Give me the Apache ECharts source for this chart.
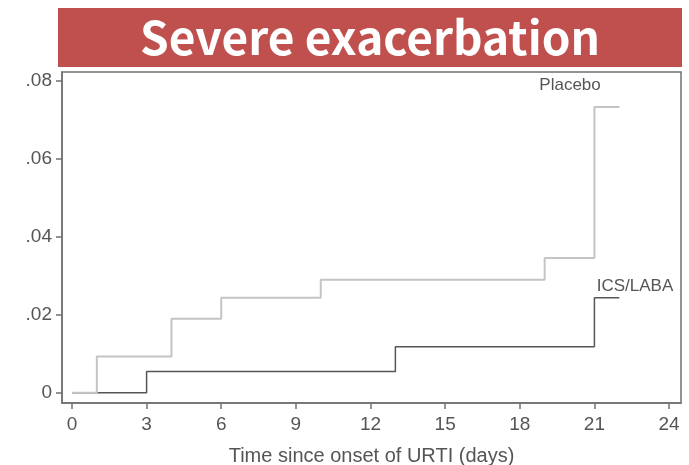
<!DOCTYPE html>
<html>
<head>
<meta charset="utf-8">
<script src="https://cdn.jsdelivr.net/npm/echarts@6/dist/echarts.min.js"></script>
<style>
  html, body { margin: 0; padding: 0; background: #fff; }
  #chart { width: 689px; height: 465px; }
</style>
</head>
<body>
<div id="chart"></div>
<script>
// Cumulative incidence of severe exacerbation after URTI onset (step curves)
const titleText = 'Severe exacerbation';
const xAxisTitle = 'Time since onset of URTI (days)';

const xTicks = [0, 3, 6, 9, 12, 15, 18, 21, 24];
const yTicks = [0, 0.02, 0.04, 0.06, 0.08];

// [day, cumulative incidence]
const placeboDays = [0, 1, 4, 6, 10, 19, 21, 22];
const placeboValues = [0, 0.0093, 0.019, 0.0244, 0.029, 0.0346, 0.0733, 0.0733];

const icsDays = [0, 3, 13, 21, 22];
const icsValues = [0, 0.0055, 0.0118, 0.0244, 0.0244];

const pair = (xs, ys) => xs.map((x, i) => [x, ys[i]]);

const axisColor = '#707070';
const textColor = '#555';
const font = 'Liberation Sans, Arial, sans-serif';

// invisible anchor symbol so the series name can sit next to its curve
const labelPoint = (coord, text, size) => ({
  symbol: 'circle',
  symbolSize: 1,
  itemStyle: { color: 'transparent' },
  data: [{ coord: coord, value: text }],
  label: { show: true, formatter: text, color: textColor, fontSize: size, fontFamily: font,
           position: 'inside' }
});

const chart = echarts.init(document.getElementById('chart'));
chart.setOption({
  animation: false,
  backgroundColor: '#fff',
  graphic: [
    {
      type: 'group',
      children: [
        { type: 'rect', shape: { x: 58, y: 8, width: 624, height: 59 },
          style: { fill: '#c0504d' } },
        { type: 'text', x: 370, y: 38,
          style: { text: titleText, fill: '#fff', align: 'center', verticalAlign: 'middle',
                   font: 'bold 46px "Noto Sans CJK KR", "Noto Sans", sans-serif' } }
      ]
    }
  ],
  grid: {
    left: 62, right: 8, top: 72, bottom: 62,
    containLabel: false,
    outerBoundsMode: 'none',
    show: true, borderColor: axisColor, borderWidth: 1.5, backgroundColor: 'transparent'
  },
  xAxis: {
    type: 'value',
    min: -0.4, max: 24.48,
    name: xAxisTitle,
    nameLocation: 'middle',
    nameGap: 43,
    nameTextStyle: { color: textColor, fontSize: 20, fontFamily: font },
    axisLine: { show: true, onZero: false, lineStyle: { color: axisColor, width: 1.5 } },
    axisTick: { show: true, inside: false, customValues: xTicks, length: 6,
                lineStyle: { color: axisColor, width: 1.5 } },
    axisLabel: { customValues: xTicks, color: textColor, fontSize: 19, fontFamily: font, margin: 12 },
    splitLine: { show: false }
  },
  yAxis: {
    type: 'value',
    min: -0.0026, max: 0.0823,
    axisLine: { show: true, onZero: false, lineStyle: { color: axisColor, width: 1.5 } },
    axisTick: { show: true, inside: false, customValues: yTicks, length: 6,
                lineStyle: { color: axisColor, width: 1.5 } },
    axisLabel: {
      customValues: yTicks, color: textColor, fontSize: 19, fontFamily: font, margin: 10,
      formatter: v => v === 0 ? '0' : '.' + Math.round(v * 100).toString().padStart(2, '0')
    },
    splitLine: { show: false }
  },
  series: [
    {
      name: 'ICS/LABA',
      type: 'line',
      step: 'end',
      symbol: 'none',
      data: pair(icsDays, icsValues),
      lineStyle: { color: '#555', width: 1.5 },
      z: 2,
      markPoint: labelPoint([22.63, 0.0274], 'ICS/LABA', 17)
    },
    {
      name: 'Placebo',
      type: 'line',
      step: 'end',
      symbol: 'none',
      data: pair(placeboDays, placeboValues),
      lineStyle: { color: '#c4c4c4', width: 2 },
      z: 3,
      markPoint: labelPoint([20.02, 0.079], 'Placebo', 17)
    }
  ]
});
</script>
</body>
</html>
